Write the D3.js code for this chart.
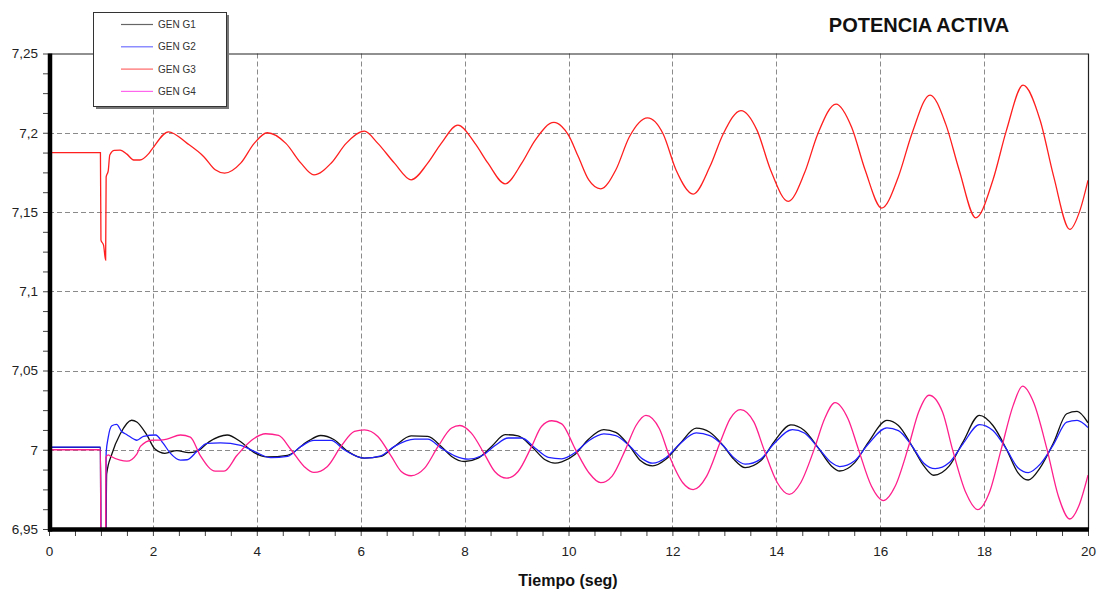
<!DOCTYPE html>
<html>
<head>
<meta charset="utf-8">
<script src="https://cdn.jsdelivr.net/npm/d3@7"></script>
<style>
  body { margin: 0; background: #fff; }
  text { font-family: "Liberation Sans", Arial, sans-serif; }
</style>
</head>
<body>
<div id="potencia"></div>
<script>
// Datos
// ========================
var series = ["GEN G1", "GEN G2", "GEN G3", "GEN G4"];
var colores = ["#111111", "#1f1fff", "#ff1f1f", "#ff1f8c"];
var coloresLeyenda = ["#666666", "#7070ff", "#ff6666", "#ff66ee"];

var tG1 = [0, 0.99, 1.0, 1.09, 1.11, 1.21, 1.37, 1.59, 1.69, 1.88, 2.04, 2.23, 2.46, 2.69, 2.85, 3.08, 3.43, 3.69, 3.95, 4.2, 4.59, 4.98, 5.23, 5.49, 5.75, 6.07, 6.39, 6.65, 6.97, 7.29, 7.55, 7.75, 8.0, 8.26, 8.52, 8.78, 9.03, 9.29, 9.55, 9.74, 9.87, 10.13, 10.39, 10.68, 10.91, 11.17, 11.39, 11.62, 11.88, 12.14, 12.46, 12.72, 12.98, 13.18, 13.4, 13.7, 13.95, 14.28, 14.54, 14.8, 15.06, 15.22, 15.51, 15.77, 16.13, 16.35, 16.61, 16.84, 17.03, 17.33, 17.59, 17.91, 18.17, 18.43, 18.65, 18.85, 19.08, 19.34, 19.59, 19.79, 20];
var vG1 = [7.0015, 7.0015, 6.93, 6.93, 6.9847, 6.9973, 7.0099, 7.0186, 7.0175, 7.0095, 7.0004, 6.9977, 6.9995, 6.9982, 6.999, 7.005, 7.0093, 7.005, 6.9982, 6.9955, 6.9965, 7.0053, 7.009, 7.0063, 6.999, 6.9947, 6.9958, 7.0021, 7.0088, 7.0084, 7.0021, 6.9958, 6.9926, 6.9947, 7.0021, 7.0095, 7.0088, 7.0021, 6.9937, 6.9916, 6.9924, 6.9972, 7.0068, 7.0127, 7.011, 7.0025, 6.993, 6.9898, 6.9941, 7.0036, 7.0136, 7.011, 7.0025, 6.9941, 6.9887, 6.993, 7.0047, 7.0157, 7.0121, 7.0015, 6.9898, 6.9866, 6.9919, 7.0047, 7.0185, 7.0153, 7.0025, 6.9898, 6.9839, 6.9898, 7.0047, 7.0217, 7.0153, 7.0004, 6.9856, 6.9809, 6.9887, 7.0047, 7.0227, 7.0242, 7.017];

var tG2 = [0, 0.99, 1.0, 1.09, 1.1, 1.14, 1.21, 1.3, 1.4, 1.5, 1.63, 1.69, 1.82, 2.05, 2.2, 2.33, 2.53, 2.66, 2.85, 3.04, 3.3, 3.69, 3.95, 4.27, 4.59, 4.85, 5.1, 5.43, 5.68, 6.07, 6.39, 6.65, 7.04, 7.29, 7.55, 7.81, 8.07, 8.33, 8.58, 8.84, 9.1, 9.36, 9.61, 9.87, 10.13, 10.39, 10.68, 10.91, 11.17, 11.43, 11.62, 11.88, 12.14, 12.46, 12.72, 12.98, 13.18, 13.4, 13.7, 13.95, 14.31, 14.54, 14.8, 15.06, 15.22, 15.51, 15.77, 16.13, 16.35, 16.61, 16.84, 17.06, 17.33, 17.59, 17.91, 18.17, 18.43, 18.65, 18.85, 19.08, 19.34, 19.59, 19.79, 20];
var vG2 = [7.0017, 7.0017, 6.93, 6.93, 6.998, 7.0078, 7.0151, 7.016, 7.0115, 7.0095, 7.0068, 7.006, 7.0085, 7.0093, 7.004, 6.998, 6.9935, 6.9937, 6.999, 7.004, 7.0043, 7.0028, 6.999, 6.995, 6.9958, 7.0021, 7.0059, 7.0059, 7.0, 6.9947, 6.9962, 7.0021, 7.0067, 7.0067, 7.001, 6.9962, 6.9941, 6.9962, 7.0025, 7.0074, 7.0074, 7.001, 6.9952, 6.9943, 6.9983, 7.0057, 7.01, 7.0089, 7.0025, 6.9941, 6.9915, 6.9951, 7.0036, 7.0106, 7.0089, 7.0025, 6.9951, 6.9909, 6.9941, 7.0036, 7.0127, 7.0106, 7.0015, 6.9919, 6.9894, 6.993, 7.0036, 7.0138, 7.0121, 7.0025, 6.9915, 6.9881, 6.9919, 7.0036, 7.0159, 7.0121, 7.0004, 6.9887, 6.9856, 6.9909, 7.0036, 7.0174, 7.0185, 7.014];

var tG3 = [0, 0.99, 1.0, 1.05, 1.09, 1.1, 1.14, 1.17, 1.26, 1.37, 1.5, 1.63, 1.75, 1.91, 1.98, 2.3, 2.66, 2.98, 3.2, 3.38, 3.69, 3.95, 4.2, 4.56, 4.85, 5.1, 5.43, 5.72, 6.07, 6.33, 6.65, 6.97, 7.29, 7.55, 7.87, 8.2, 8.45, 8.78, 9.1, 9.36, 9.72, 9.87, 10.0, 10.19, 10.39, 10.62, 10.91, 11.17, 11.52, 11.82, 12.07, 12.4, 12.72, 12.98, 13.32, 13.63, 13.89, 14.23, 14.54, 14.8, 15.15, 15.45, 15.71, 16.03, 16.35, 16.61, 16.96, 17.26, 17.52, 17.84, 18.17, 18.43, 18.75, 19.08, 19.34, 19.65, 19.85, 20];
var vG3 = [7.1874, 7.1874, 7.1323, 7.1291, 7.1197, 7.1722, 7.176, 7.186, 7.1889, 7.189, 7.1865, 7.1828, 7.1828, 7.1865, 7.1895, 7.2006, 7.1933, 7.1849, 7.1766, 7.1745, 7.1808, 7.1933, 7.2, 7.1933, 7.1808, 7.1734, 7.1808, 7.1933, 7.201, 7.1933, 7.1808, 7.1703, 7.1808, 7.1933, 7.2048, 7.1933, 7.1808, 7.1678, 7.1808, 7.1954, 7.2065, 7.204, 7.1985, 7.1848, 7.1702, 7.1646, 7.1765, 7.1973, 7.2094, 7.1994, 7.1765, 7.1613, 7.1785, 7.1994, 7.214, 7.2015, 7.1765, 7.1567, 7.1744, 7.1994, 7.2181, 7.2035, 7.1765, 7.1525, 7.1723, 7.1994, 7.2238, 7.2056, 7.1765, 7.1463, 7.1702, 7.2015, 7.23, 7.2077, 7.1723, 7.139, 7.1515, 7.17];

var tG4 = [0, 0.99, 1.0, 1.09, 1.095, 1.14, 1.17, 1.37, 1.5, 1.69, 1.76, 1.98, 2.14, 2.27, 2.53, 2.72, 2.91, 3.2, 3.37, 3.62, 3.9, 4.17, 4.42, 4.66, 4.91, 5.1, 5.36, 5.62, 5.88, 6.07, 6.33, 6.59, 6.78, 6.97, 7.23, 7.49, 7.75, 7.91, 8.13, 8.39, 8.58, 8.81, 9.03, 9.29, 9.48, 9.68, 9.87, 10.13, 10.39, 10.62, 10.84, 11.1, 11.3, 11.49, 11.75, 11.94, 12.2, 12.4, 12.66, 12.92, 13.11, 13.31, 13.57, 13.76, 14.02, 14.25, 14.47, 14.73, 14.93, 15.13, 15.38, 15.58, 15.83, 16.06, 16.29, 16.55, 16.74, 16.94, 17.2, 17.39, 17.65, 17.88, 18.1, 18.33, 18.56, 18.74, 18.95, 19.21, 19.43, 19.65, 19.82, 20];
var vG4 = [7.0, 7.0, 6.93, 6.93, 6.9952, 6.9968, 6.9962, 6.9934, 6.9928, 6.9973, 7.0021, 7.006, 7.0061, 7.0067, 7.0093, 7.008, 6.9965, 6.9865, 6.9865, 6.9965, 7.006, 7.0101, 7.009, 7.0, 6.9895, 6.9857, 6.9895, 7.0021, 7.0116, 7.0126, 7.0084, 6.9958, 6.9863, 6.9836, 6.9884, 7.0021, 7.0137, 7.0153, 7.0105, 6.9968, 6.9863, 6.9821, 6.9863, 7.0021, 7.0147, 7.0183, 7.0163, 7.0004, 6.9856, 6.9792, 6.9834, 7.0004, 7.0153, 7.0217, 7.0132, 6.9962, 6.9792, 6.9749, 6.9834, 7.0047, 7.0195, 7.0253, 7.0174, 7.0004, 6.9792, 6.9718, 6.9792, 7.0004, 7.0195, 7.0297, 7.0195, 7.0004, 6.9771, 6.9679, 6.9771, 7.0025, 7.0238, 7.0344, 7.0238, 7.0004, 6.9728, 6.9622, 6.9728, 7.0004, 7.028, 7.0401, 7.0301, 7.0004, 6.9707, 6.9563, 6.9643, 6.984];

var ticksX = [0, 2, 4, 6, 8, 10, 12, 14, 16, 18, 20];
var ticksY = [6.95, 7, 7.05, 7.1, 7.15, 7.2, 7.25];
var etiquetasY = ["6,95", "7", "7,05", "7,1", "7,15", "7,2", "7,25"];

// Dimensiones
// ===========
var W = 1097, H = 591;
var margen = { izq: 49, der: 1088, sup: 53.5, inf: 529 };

var svg = d3.select("#potencia")
  .append("svg")
  .attr("width", W)
  .attr("height", H);

var x = d3.scaleLinear().domain([0, 20]).range([margen.izq, margen.der]);
var y = d3.scaleLinear().domain([6.95, 7.25]).range([margen.inf, margen.sup]);

// Rejilla
// =======
svg.append("g").selectAll("line")
  .data(ticksX.filter(function(d) { return d > 0 && d < 20; }))
  .enter().append("line")
  .attr("x1", function(d) { return Math.round(x(d)) + 0.5; })
  .attr("x2", function(d) { return Math.round(x(d)) + 0.5; })
  .attr("y1", margen.sup).attr("y2", margen.inf)
  .attr("stroke", "#8a8a8a").attr("stroke-dasharray", "5,3");

svg.append("g").selectAll("line")
  .data(ticksY.filter(function(d) { return d > 6.96 && d < 7.24; }))
  .enter().append("line")
  .attr("y1", function(d) { return Math.round(y(d)) + 0.5; })
  .attr("y2", function(d) { return Math.round(y(d)) + 0.5; })
  .attr("x1", margen.izq).attr("x2", margen.der)
  .attr("stroke", "#8a8a8a").attr("stroke-dasharray", "5,3");

// Marco superior y derecho
svg.append("path")
  .attr("d", "M" + margen.izq + "," + (margen.sup + 0.5) + "H" + (margen.der + 0.5) + "V" + margen.inf)
  .attr("fill", "none").attr("stroke", "#222").attr("stroke-width", 1.2);

// Curvas
// ======
svg.append("clipPath").attr("id", "clip")
  .append("rect")
  .attr("x", margen.izq).attr("y", margen.sup)
  .attr("width", margen.der - margen.izq).attr("height", margen.inf - margen.sup);

var linea = d3.line()
  .x(function(d) { return x(d[0]); })
  .y(function(d) { return y(d[1]); })
  .curve(d3.curveMonotoneX);

var tiempos = [tG1, tG2, tG3, tG4];
var valores = [vG1, vG2, vG3, vG4];

tiempos.forEach(function(t, i) {
  svg.append("path")
    .datum(d3.zip(t, valores[i]))
    .attr("clip-path", "url(#clip)")
    .attr("fill", "none")
    .attr("stroke", colores[i])
    .attr("stroke-width", 1.3)
    .attr("d", linea);
});

// Ejes
// ====
var ejeY = d3.axisLeft(y)
  .tickValues(d3.range(0, 25).map(function(i) { return 6.95 + i * 0.0125; }))
  .tickSize(6)
  .tickFormat(function(d) {
    var k = ticksY.findIndex(function(v) { return Math.abs(v - d) < 1e-6; });
    return k >= 0 ? etiquetasY[k] : "";
  });

var gy = svg.append("g")
  .attr("transform", "translate(" + margen.izq + ",0)")
  .call(ejeY);
gy.select(".domain").remove();
gy.selectAll(".tick line").attr("stroke", "#444");
gy.selectAll(".tick text")
  .attr("x", -11)
  .attr("fill", "#222")
  .style("font-size", "13.5px")
  .style("font-family", "'Liberation Sans', Arial, sans-serif");

var ejeX = d3.axisBottom(x)
  .tickValues(d3.range(0, 41).map(function(i) { return i * 0.5; }))
  .tickSize(7)
  .tickFormat(function(d) { return ticksX.indexOf(d) >= 0 ? d : ""; });

var gx = svg.append("g")
  .attr("transform", "translate(0," + margen.inf + ")")
  .call(ejeX);
gx.select(".domain").remove();
gx.selectAll(".tick line").attr("stroke", "#444");
gx.selectAll(".tick text")
  .attr("y", 17)
  .attr("fill", "#222")
  .style("font-size", "13.5px")
  .style("font-family", "'Liberation Sans', Arial, sans-serif");

// ejes gruesos
svg.append("line")
  .attr("x1", margen.izq + 1).attr("x2", margen.izq + 1)
  .attr("y1", margen.sup).attr("y2", margen.inf + 2.5)
  .attr("stroke", "#000").attr("stroke-width", 4.5);
svg.append("line")
  .attr("x1", margen.izq - 1).attr("x2", margen.der + 1)
  .attr("y1", margen.inf + 0.5).attr("y2", margen.inf + 0.5)
  .attr("stroke", "#000").attr("stroke-width", 4.5);

// Textos
// ======
svg.append("text")
  .attr("x", 568).attr("y", 586)
  .attr("text-anchor", "middle")
  .style("font-weight", "bold").style("font-size", "16px")
  .attr("fill", "#111")
  .text("Tiempo (seg)");

svg.append("text")
  .attr("x", 919).attr("y", 32)
  .attr("text-anchor", "middle")
  .style("font-weight", "bold").style("font-size", "20px")
  .attr("fill", "#111")
  .text("POTENCIA ACTIVA");

// Leyenda
// =======
var ley = svg.append("g");
ley.append("rect")
  .attr("x", 96).attr("y", 15).attr("width", 133).attr("height", 94)
  .attr("fill", "#777");
ley.append("rect")
  .attr("x", 93.5).attr("y", 12.5).attr("width", 133).attr("height", 94)
  .attr("fill", "#fff").attr("stroke", "#333").attr("stroke-width", 1);

series.forEach(function(s, i) {
  var yy = 24.5 + i * 22.3;
  ley.append("line")
    .attr("x1", 121).attr("x2", 153)
    .attr("y1", yy).attr("y2", yy)
    .attr("stroke", coloresLeyenda[i]).attr("stroke-width", 1.2);
  ley.append("text")
    .attr("x", 158).attr("y", yy + 3.5)
    .style("font-size", "10px")
    .attr("fill", "#333")
    .text(s);
});
</script>
</body>
</html>
